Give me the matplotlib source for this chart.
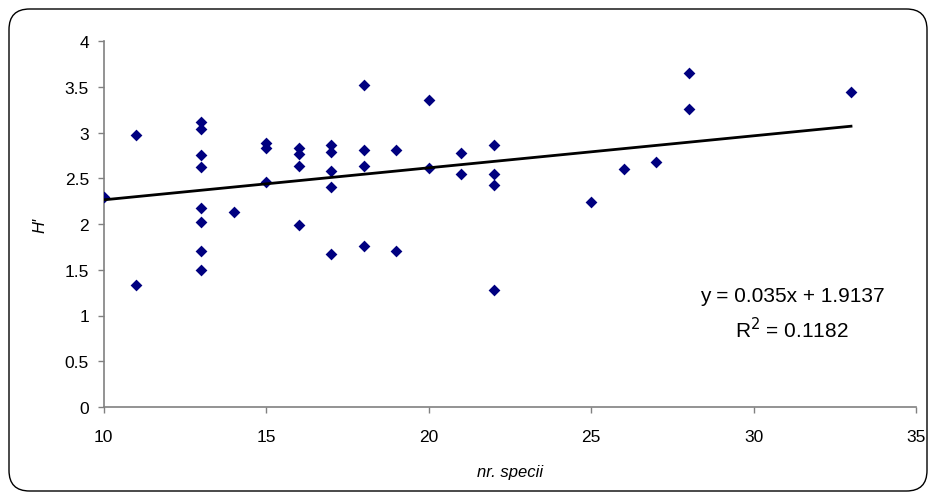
import matplotlib.pyplot as plt
from matplotlib.patches import FancyBboxPatch

# numar de specii (x) si indicele Shannon H' (y)
nr_specii = [10, 11, 11, 13, 13, 13, 13, 13, 13, 13, 13, 14,
             15, 15, 15, 16, 16, 16, 16, 17, 17, 17, 17, 17,
             18, 18, 18, 18, 19, 19, 20, 20, 21, 21, 22, 22,
             22, 22, 25, 26, 27, 28, 28, 33]
h_shannon = [2.30, 2.97, 1.33, 3.11, 3.04, 2.75, 2.62, 2.17, 2.02, 1.70, 1.50, 2.13,
             2.88, 2.83, 2.46, 2.83, 2.76, 2.63, 1.99, 2.86, 2.79, 2.58, 2.40, 1.67,
             3.52, 2.81, 2.63, 1.76, 2.81, 1.70, 3.35, 2.61, 2.78, 2.55, 2.86, 2.55,
             2.43, 1.28, 2.24, 2.60, 2.68, 3.65, 3.26, 3.44]

# linia de tendinta (din grafic)
panta = 0.035
intercept = 1.9137
r2 = 0.1182
x_linie = [10, 33]

xticks = [10, 15, 20, 25, 30, 35]
yticks = [0, 0.5, 1, 1.5, 2, 2.5, 3, 3.5, 4]

plt.rcParams['font.family'] = ['Liberation Sans', 'DejaVu Sans']

fig = plt.figure(figsize=(9.34, 5.02), dpi=100)
W, H = 934, 502
ax = fig.add_axes([103.5 / W, 1 - 408 / H, (916 - 103.5) / W, (408 - 42) / H])

# chenar rotunjit in jurul graficului
cadru = FancyBboxPatch((9 / W, 10 / H), (927 - 9) / W, (492 - 10) / H,
                       boxstyle='round,pad=0,rounding_size=0.022',
                       transform=fig.transFigure, fill=False,
                       edgecolor='black', linewidth=1.0, mutation_aspect=W / H)
fig.patches.append(cadru)

ax.scatter(nr_specii, h_shannon, marker='D', s=36, color='#000080',
           zorder=3, linewidths=0)
y_linie = [panta * x + intercept for x in x_linie]
ax.plot(x_linie, y_linie, color='black', linewidth=2.0, zorder=4)

ax.set_xlim(10, 35)
ax.set_ylim(0, 4)
ax.set_xticks(xticks)
ax.set_yticks(yticks)
ax.set_xticklabels([str(t) for t in xticks])
ax.set_yticklabels([f'{t:g}' for t in yticks])

for s in ['top', 'right']:
    ax.spines[s].set_visible(False)
for s in ['left', 'bottom']:
    ax.spines[s].set_color('#808080')
    ax.spines[s].set_linewidth(1.2)
ax.tick_params(axis='both', direction='out', length=4.5, width=1.0,
               color='#808080', labelsize=12.5)
ax.tick_params(axis='x', pad=11)
ax.tick_params(axis='y', pad=6)

ax.set_xlabel('nr. specii', style='italic', fontsize=12, labelpad=15)
ax.set_ylabel("H'", style='italic', fontsize=12, labelpad=12)

# ecuatia liniei de tendinta
fig.text(792 / W, 1 - 297 / H, f'y = {panta}x + {intercept}', fontsize=15,
         ha='center', va='center')
fig.text(792 / W, 1 - 330 / H, f'R$^2$ = {r2}', fontsize=15,
         ha='center', va='center')

fig.savefig('out.png', dpi=100)
